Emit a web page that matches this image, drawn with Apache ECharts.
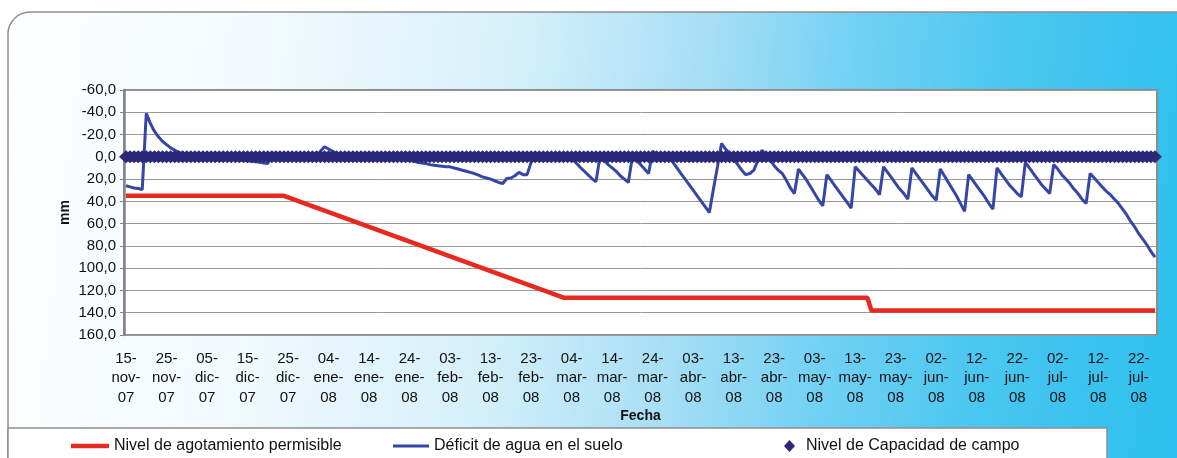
<!DOCTYPE html>
<html>
<head>
<meta charset="utf-8">
<script src="https://cdn.jsdelivr.net/npm/echarts@6/dist/echarts.min.js"></script>
<style>
  html, body { margin: 0; padding: 0; background: #ffffff; }
  #chart { width: 1177px; height: 458px; }
</style>
</head>
<body>
<div id="chart"></div>
<script>
// Daily balance period
const startDate = '2007-11-15';
const endDate = '2008-07-26';
const monthNames = ['ene', 'feb', 'mar', 'abr', 'may', 'jun', 'jul', 'ago', 'sep', 'oct', 'nov', 'dic'];

// Y axis scale (mm, inverted)
const yMin = -60;
const yMax = 160;
const yStep = 20;

// Series names
const serieAgotamiento = 'Nivel de agotamiento permisible';
const serieDeficit = 'Déficit de agua en el suelo';
const serieCampo = 'Nivel de Capacidad de campo';

// Soil water deficit, one value per day (mm)
const deficit = [
  26, 27, 28, 28.5, 29.5, -39, -30, -23, -18, -14,
  -11, -8, -6, -4, -3, -2, -1, 0, 0, 0,
  0, 0, 0.5, 1, 1, 1.5, 2, 2.5, 3, 3,
  3.5, 4, 4.5, 5, 5.5, 6, -4, -1, 0, 0,
  0, 0, 0, 0, 0, 0, 0, 0, -5, -9,
  -7, -5, -3, -1, 0, 0, 0, 0.5, 0.5, 1,
  1, 1, 1.5, 1.5, 2, 2, 2, 2.5, 2.5, 3,
  3, 4, 5, 5.5, 6, 7, 7.5, 8, 8.5, 9,
  9, 10, 11, 12, 13, 14, 15, 16.5, 18, 19,
  20, 21.5, 23, 24, 19.5, 19, 17, 14, 16, 16,
  5, 0, 0, 0, 0, 0, 0, 0, 0, 0,
  1.5, 5, 9, 12.5, 16, 19.5, 22.5, 0, 3, 7,
  10, 13, 17, 20, 23, 0, 3, 7, 11, 15,
  -5, -2, 0, 0, 0, 5, 10, 15, 20, 25,
  30, 35, 40, 45, 50, 29, 9, -12, -7, -3,
  2, 7, 12, 16, 15, 12, 3, -6, -1, 3,
  8, 12, 15, 21, 28, 33, 11, 16, 21, 27,
  33, 39, 44, 16, 21, 26, 31, 36, 41, 46,
  9, 13, 17, 21, 25, 29, 34, 9, 14, 19,
  24, 29, 33, 38, 10, 15, 20, 25, 30, 35,
  39, 11, 17, 23, 29, 35, 42, 49, 16, 21,
  26, 31, 36, 42, 47, 10, 15, 20, 25, 29,
  33, 36, 5, 10, 15, 20, 25, 29, 33, 7,
  11, 16, 20, 24, 29, 33, 38, 42, 15, 19,
  23, 27, 31, 34, 38, 42, 47, 52, 58, 63,
  69, 74, 79, 85, 90
];

// Allowable depletion level: break points (date, mm)
const agotamiento = [
  ['2007-11-15', 35],
  ['2007-12-24', 35],
  ['2008-03-02', 126.5],
  ['2008-05-16', 126.5],
  ['2008-05-17', 138],
  ['2008-07-26', 138]
];

// Field capacity level (mm)
const capacidadCampo = 0;

// Daily category list
const days = [];
for (let t = Date.parse(startDate + 'T00:00:00Z'); t <= Date.parse(endDate + 'T00:00:00Z'); t += 86400000) {
  days.push(new Date(t).toISOString().slice(0, 10));
}

function dayLabel(s) {
  const p = s.split('-');
  return p[2] + '-\n' + monthNames[parseInt(p[1], 10) - 1] + '-\n' + p[0].slice(2);
}

const font = '"Liberation Sans", Arial, sans-serif';
const navy = '#2a2878';

const chart = echarts.init(document.getElementById('chart'), null, { renderer: 'canvas' });

chart.setOption({
  animation: false,
  backgroundColor: '#ffffff',
  textStyle: { fontFamily: font },
  graphic: {
    elements: [
      {
        type: 'rect',
        z: -100,
        silent: true,
        shape: { x: 8, y: 12, width: 1200, height: 480, r: 22 },
        style: {
          fill: new echarts.graphic.LinearGradient(0, 0, 1, 0.3, [
            { offset: 0, color: '#fdfeff' },
            { offset: 0.22, color: '#f2fafd' },
            { offset: 0.42, color: '#d6f0fa' },
            { offset: 0.58, color: '#a6def5' },
            { offset: 0.7, color: '#72d1f3' },
            { offset: 0.84, color: '#48c6f0' },
            { offset: 1, color: '#2dc0ee' }
          ]),
          stroke: '#8f8f8f',
          lineWidth: 1.5
        }
      },
      {
        type: 'rect',
        z: -99,
        silent: true,
        shape: { x: 8, y: 428, width: 1099, height: 40 },
        style: { fill: '#ffffff', stroke: '#8f8f8f', lineWidth: 1.5 }
      }
    ]
  },
  grid: {
    left: 124,
    right: 20,
    top: 90,
    bottom: 123,
    show: true,
    backgroundColor: '#ffffff',
    borderColor: '#8c8c8c',
    borderWidth: 2
  },
  legend: [
    {
      left: 66, top: 433,
      itemWidth: 38, itemHeight: 4.5,
      icon: 'rect',
      data: [serieAgotamiento],
      textStyle: { fontSize: 16, color: '#111', fontFamily: font }
    },
    {
      left: 388, top: 433,
      itemWidth: 36, itemHeight: 3,
      icon: 'rect',
      data: [serieDeficit],
      textStyle: { fontSize: 16, color: '#111', fontFamily: font }
    },
    {
      left: 779, top: 433,
      itemWidth: 11, itemHeight: 12,
      icon: 'diamond',
      data: [serieCampo],
      textStyle: { fontSize: 16, color: '#111', fontFamily: font, padding: [0, 0, 0, 6] }
    }
  ],
  xAxis: {
    type: 'category',
    data: days,
    boundaryGap: true,
    name: 'Fecha',
    nameLocation: 'middle',
    nameGap: 74,
    nameMoveOverlap: false,
    nameTextStyle: { fontSize: 14, fontWeight: 'bold', color: '#111', fontFamily: font },
    axisLine: { show: true, lineStyle: { color: '#858585', width: 2.5 } },
    axisTick: { show: false },
    splitLine: { show: false },
    axisLabel: {
      interval: 9,
      formatter: dayLabel,
      fontSize: 15,
      lineHeight: 19.5,
      color: '#111',
      margin: 14,
      fontFamily: font
    }
  },
  yAxis: {
    type: 'value',
    inverse: true,
    min: yMin,
    max: yMax,
    interval: yStep,
    name: 'mm',
    nameLocation: 'middle',
    nameGap: 52,
    nameMoveOverlap: false,
    nameRotate: 90,
    nameTextStyle: { fontSize: 14, fontWeight: 'bold', color: '#111', fontFamily: font },
    axisLine: { show: true, lineStyle: { color: '#858585', width: 2.5 } },
    axisTick: { show: true, length: 4, lineStyle: { color: '#858585', width: 1 } },
    splitLine: { show: true, lineStyle: { color: '#9a9a9a', width: 1 } },
    axisLabel: {
      fontSize: 15,
      color: '#111',
      margin: 8,
      fontFamily: font,
      formatter: v => v.toFixed(1).replace('.', ',')
    }
  },
  series: [
    {
      name: serieAgotamiento,
      type: 'line',
      data: agotamiento,
      symbol: 'none',
      color: '#e8291f',
      lineStyle: { color: '#e8291f', width: 4.5 },
      z: 2
    },
    {
      name: serieDeficit,
      type: 'line',
      data: deficit,
      symbol: 'none',
      color: '#3646a6',
      lineStyle: { color: '#3646a6', width: 3 },
      z: 3
    },
    {
      name: serieCampo,
      type: 'scatter',
      data: days.map(d => [d, capacidadCampo]),
      symbol: 'diamond',
      symbolSize: [14, 13],
      color: navy,
      itemStyle: { color: navy, opacity: 1 },
      z: 4
    }
  ]
});
</script>
</body>
</html>
